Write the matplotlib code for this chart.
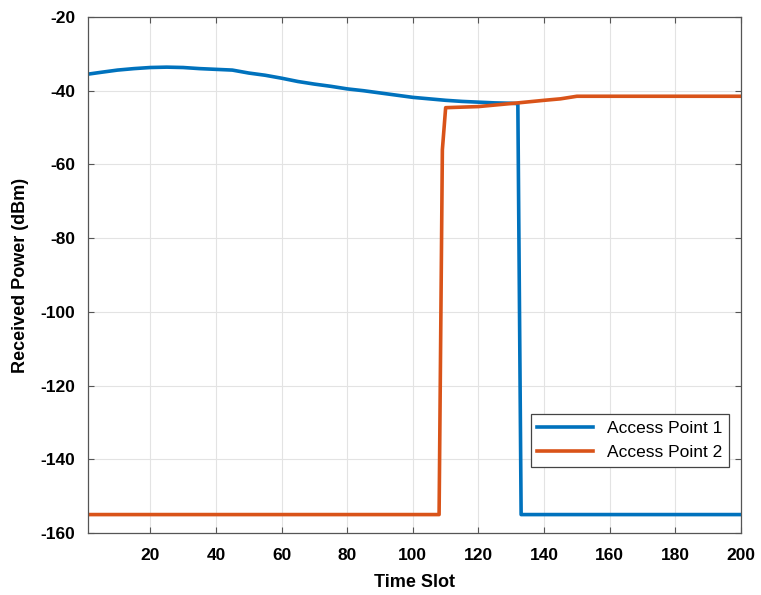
import matplotlib
matplotlib.use("Agg")
import matplotlib.pyplot as plt

# Access Point 1 (blue) key points
ap1_x = [1, 5, 10, 15, 20, 25, 30, 35, 40, 45, 50, 55, 60, 65, 70, 75, 80, 85, 90, 95,
         100, 105, 110, 115, 120, 125, 130, 132, 133, 200]
ap1_y = [-35.5, -35.0, -34.4, -34.0, -33.7, -33.6, -33.7, -34.0, -34.2, -34.4, -35.2, -35.8,
         -36.6, -37.5, -38.2, -38.8, -39.5, -40.0, -40.6, -41.2, -41.8, -42.2, -42.6, -42.9,
         -43.1, -43.3, -43.4, -43.5, -155.0, -155.0]

# Access Point 2 (orange) key points
ap2_x = [1, 108, 109, 110, 120, 132, 140, 145, 150, 151, 200]
ap2_y = [-155.0, -155.0, -56.0, -44.6, -44.3, -43.3, -42.6, -42.2, -41.5, -41.5, -41.5]

labels = ["Access Point 1", "Access Point 2"]
x_ticks = [20, 40, 60, 80, 100, 120, 140, 160, 180, 200]
y_ticks = [-160, -140, -120, -100, -80, -60, -40, -20]

plt.rcParams['font.family'] = ['Liberation Sans', 'DejaVu Sans']
plt.rcParams['axes.unicode_minus'] = False

fig = plt.figure(figsize=(7.61, 5.95), dpi=100)
ax = fig.add_axes([0.1156, 0.1042, 0.8581, 0.8672])

ax.plot(ap1_x, ap1_y, color='#0072BD', lw=2.6, label=labels[0])
ax.plot(ap2_x, ap2_y, color='#D95319', lw=2.6, label=labels[1])

ax.set_xlim(1, 200)
ax.set_ylim(-160, -20)
ax.set_xticks(x_ticks)
ax.set_yticks(y_ticks)
ax.grid(True, color='#e3e3e3', lw=0.8)
ax.set_axisbelow(True)
ax.tick_params(direction='in', top=True, right=True, length=4, color='#555555',
               labelsize=12.5, width=0.8)
ax.tick_params(axis='x', pad=11)
ax.tick_params(axis='y', pad=9)
for t in ax.get_xticklabels() + ax.get_yticklabels():
    t.set_fontweight('bold')
for s in ax.spines.values():
    s.set_color('#555555')
    s.set_linewidth(0.9)

ax.set_xlabel("Time Slot", fontsize=13, fontweight='bold', labelpad=8)
ax.set_ylabel("Received Power (dBm)", fontsize=13, fontweight='bold', labelpad=8)

leg = ax.legend(loc='lower right', bbox_to_anchor=(0.982, 0.128), borderaxespad=0,
                fancybox=False, edgecolor='#444444', fontsize=12.5, handlelength=3.2,
                framealpha=1)
leg.get_frame().set_linewidth(0.9)

fig.savefig("out.png", dpi=100)
